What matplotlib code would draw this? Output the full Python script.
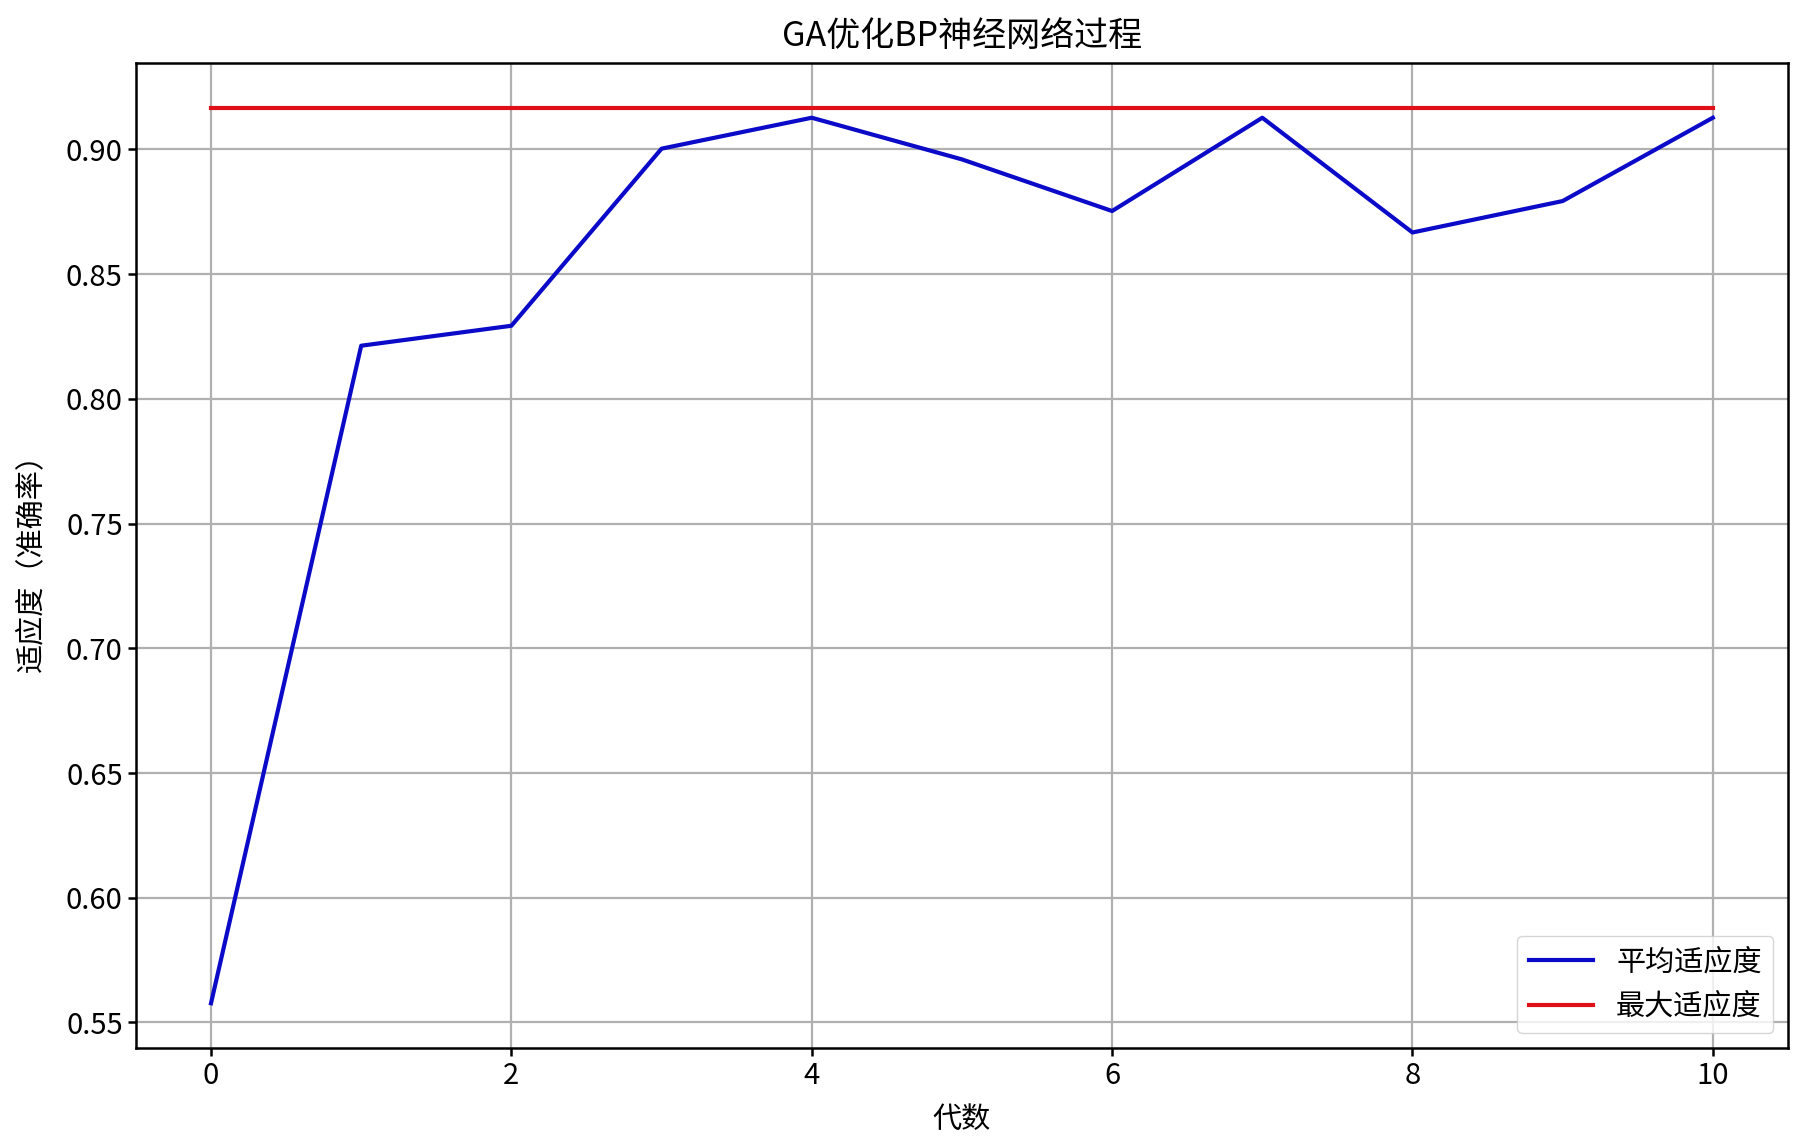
import matplotlib
matplotlib.use('Agg')
import matplotlib.pyplot as plt

# generations and fitness values
generations = [0, 1, 2, 3, 4, 5, 6, 7, 8, 9, 10]
avg_fitness = [0.5577, 0.8213, 0.8293, 0.9003, 0.9127, 0.8960, 0.8753, 0.9127, 0.8667, 0.8793, 0.9127]
max_fitness = [0.9167] * 11

plt.rcParams['font.family'] = ['Noto Sans CJK SC', 'DejaVu Sans']
plt.rcParams['axes.unicode_minus'] = False

fig = plt.figure(figsize=(17.98, 11.41), dpi=100)
ax = fig.add_axes([0.0756, 0.0815, 0.9188, 0.8633])

ax.plot(generations, avg_fitness, color='#0a0ac8', linewidth=3.0, label='平均适应度')
ax.plot(generations, max_fitness, color='#e01018', linewidth=3.0, label='最大适应度')

ax.set_title('GA优化BP神经网络过程', fontsize=24.5, pad=12)
ax.set_xlabel('代数', fontsize=21, labelpad=10)
ax.set_ylabel('适应度（准确率）', fontsize=21, labelpad=14)
ax.tick_params(labelsize=21, width=1.8, length=6)
for s in ax.spines.values():
    s.set_linewidth(1.8)

ax.grid(True, color='#b0b0b0', linewidth=1.6)
ax.legend(loc='lower right', fontsize=21, handlelength=2.2, borderaxespad=0.5)

fig.savefig('out.png', dpi=100)
